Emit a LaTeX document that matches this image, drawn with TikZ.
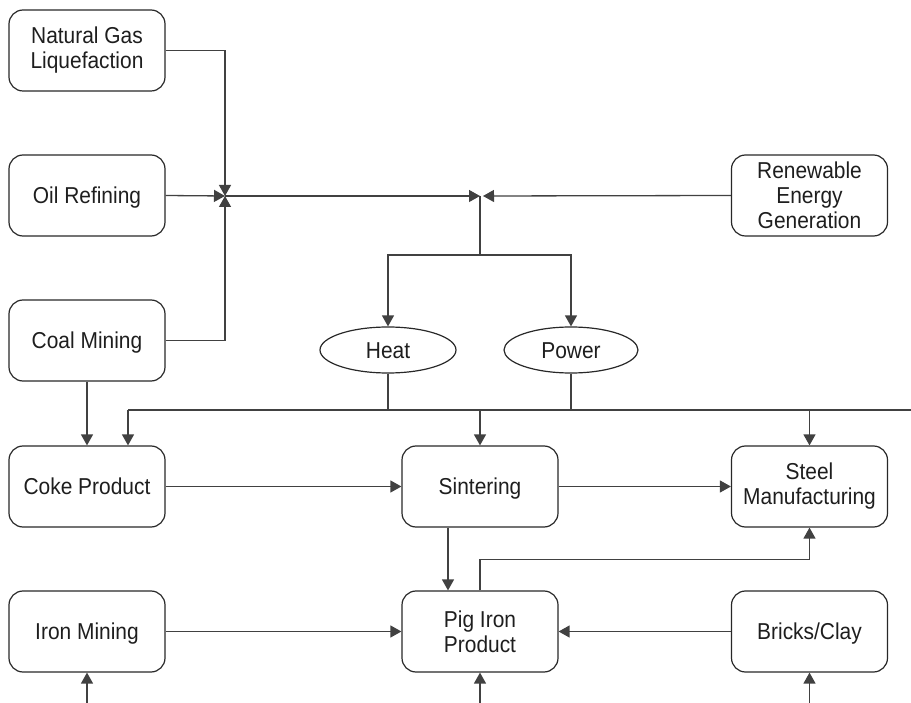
\documentclass[tikz,border=0pt]{standalone}
\usepackage{fontspec}
\setmainfont[FakeStretch=0.91]{Liberation Sans}
\usetikzlibrary{shapes.geometric,arrows.meta}
\definecolor{linec}{RGB}{65,65,65}
\definecolor{boxc}{RGB}{40,40,40}
\definecolor{txtc}{RGB}{30,30,30}
\begin{document}
\begin{tikzpicture}[x=1pt,y=-1pt,
  box/.style={draw=boxc, line width=1.2pt, rounded corners=14pt, minimum width=156pt, minimum height=81pt, align=center, inner sep=0pt, text=txtc, font=\fontsize{23}{25}\selectfont},
  onebox/.style={box, text height=16.5pt, text depth=0pt},
  oval/.style={ellipse, draw=boxc, line width=1.2pt, minimum height=46pt, inner sep=0pt, text=txtc, text height=16.5pt, text depth=0pt, font=\fontsize{23}{25}\selectfont},
  conn/.style={draw=linec, line width=1.3pt},
  arr/.style={conn, -{Triangle[length=11pt,width=12pt]}}]
\useasboundingbox (0,0) rectangle (911,703);
% boxes
\node[box] (ngl) at (87,50.5) {Natural Gas\\Liquefaction};
\node[onebox] (oil) at (87,195.5) {Oil Refining};
\node[onebox] (coal) at (87,340.5) {Coal Mining};
\node[onebox] (coke) at (87,486.5) {Coke Product};
\node[onebox] (iron) at (87,631.5) {Iron Mining};
\node[onebox] (sint) at (480,486.5) {Sintering};
\node[box] (pig) at (480,631.5) {Pig Iron\\Product};
\node[box] (steel) at (809.5,486.5) {Steel\\Manufacturing};
\node[onebox] (bricks) at (809.5,631.5) {Bricks/Clay};
\node[box] (ren) at (809.5,195.5) {Renewable\\Energy\\Generation};
\node[oval, minimum width=136pt] (heat) at (388,350) {Heat};
\node[oval, minimum width=134pt] (power) at (571,350) {Power};
% junction coordinates
\coordinate (j1) at (225,196);
\coordinate (j2) at (480,196);
\coordinate (j2r) at (483,196);
\coordinate (j3) at (480,255);
\coordinate (busL) at (128,410);
\coordinate (busR) at (911,410);
\coordinate (b1) at (87,703);
\coordinate (b2) at (480,703);
\coordinate (b3) at (809.5,703);
% fuel inputs
\draw[arr] (ngl.east |- 0,50.5) -| (j1);
\draw[arr] (oil.east) -- (j1);
\draw[arr] (coal.east) -| (j1);
\draw[arr] (j1) -- (j2);
\draw[arr] (ren.west) -- (j2r);
\draw[conn] (j2) -- (j3);
\draw[arr] (j3) -| (heat.north);
\draw[arr] (j3) -| (power.north);
% heat/power bus
\draw[conn] (heat.south) -- (heat.south |- busL);
\draw[conn] (power.south) -- (power.south |- busL);
\draw[conn] (busL) -- (busR);
\draw[arr] (busL) -- (busL |- coke.north);
\draw[arr] (sint.north |- busL) -- (sint.north);
\draw[arr] (steel.north |- busL) -- (steel.north);
% process flow
\draw[arr] (coal.south) -- (coke.north);
\draw[arr] (coke.east) -- (sint.west);
\draw[arr] (sint.east) -- (steel.west);
\draw[arr] ([xshift=-32pt]sint.south) -- ([xshift=-32pt]pig.north);
\draw[arr] (pig.north) -- ++(0,-31) -| (steel.south);
\draw[arr] (iron.east) -- (pig.west);
\draw[arr] (bricks.west) -- (pig.east);
% bottom inputs
\draw[arr] (b1) -- (iron.south);
\draw[arr] (b2) -- (pig.south);
\draw[arr] (b3) -- (bricks.south);
\end{tikzpicture}
\end{document}
